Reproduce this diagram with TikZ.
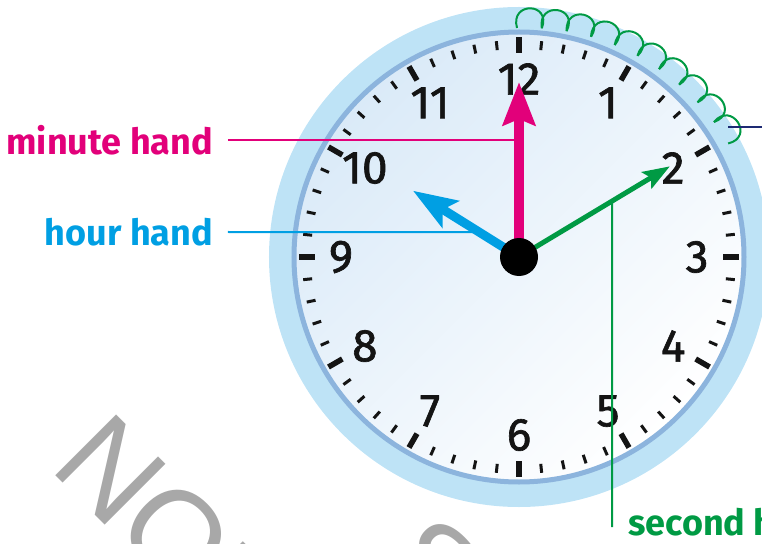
\documentclass[tikz,border=0pt]{standalone}
\usepackage{fontspec}
\setmainfont{Fira Sans}
\newfontfamily\markfont{Liberation Sans}
\newfontfamily\digitfont[FakeBold=1.4]{Fira Sans}
\usetikzlibrary{arrows.meta}

\definecolor{rimblue}{HTML}{BEE3F6}
\definecolor{ringblue}{HTML}{8CB4DD}
\definecolor{faceblue}{HTML}{DAEAF8}
\definecolor{minpink}{HTML}{E2007A}
\definecolor{hourblue}{HTML}{009FE3}
\definecolor{secgreen}{HTML}{009A44}
\definecolor{navy}{HTML}{1D2A73}
\definecolor{markgray}{HTML}{A8A8A8}
\definecolor{tickblack}{HTML}{141414}

\tikzset{
  handlabel/.style={font=\bfseries\fontsize{36}{40}\selectfont, inner sep=0pt},
  digit/.style={font=\digitfont\fontsize{46}{50}\selectfont, text=tickblack, inner sep=0pt},
  leader/.style={line width=2pt},
  markword/.style={font=\markfont\fontsize{125}{125}\selectfont, text=markgray, rotate=-45, inner sep=0pt},
}

\begin{document}
\begin{tikzpicture}[x=1pt,y=1pt]
\useasboundingbox (-519,-286) rectangle (243,257);
\node[markword, anchor=base west] (markA) at (-471,-211) {NOT};
\node[markword] (markB) at (-86,-312) {S};
\fill[rimblue] (0,0) circle (250);
\shade[top color=faceblue, bottom color=white, shading angle=45] (0,0) circle (225);
\draw[ringblue, line width=5] (0,0) circle (225);
\foreach \i in {1,...,59}
  \draw[tickblack, line width=3] ({90-6*\i}:208) -- ({90-6*\i}:217);
\foreach \a in {0,30,...,330}
  \draw[tickblack, line width=5.5] (\a:204) -- (\a:220);
\foreach \n in {1,...,12}
  \node[digit] (d\n) at ({90-30*\n}:178) {\n};
\foreach \k in {0,...,9}{
  \pgfmathsetmacro\aa{90.5-6.2*\k}
  \pgfmathsetmacro\ab{\aa-6.2}
  \pgfmathsetmacro\ra{229+0.9*\k}
  \pgfmathsetmacro\rb{\ra+0.9}
  \draw[secgreen, line width=2] (\aa:\ra) .. controls ({\aa+1.6}:{\ra+27}) and ({\ab-1.6}:{\rb+27}) .. (\ab:\rb);
}
\coordinate (ctr) at (0,0);
\coordinate (mintip) at (90:175);
\coordinate (hourtip) at (148:125);
\coordinate (sectip) at (31:176);
\coordinate (minpt) at (90:117);
\coordinate (hourpt) at (148:47);
\coordinate (secpt) at (31:108.5);
\coordinate (secfoot) at (93,-270);
\coordinate (rimpt) at (209,130);
\coordinate (rimend) at (243,130);
\node[handlabel, text=minpink, anchor=east, outer xsep=15pt] (minlab) at (-291,117) {minute hand};
\node[handlabel, text=hourblue, anchor=east, outer xsep=15pt] (hourlab) at (-291,25) {hour hand};
\node[handlabel, text=secgreen, anchor=base west] (seclab) at (109,-278) {second hand};
\draw[leader, minpink] (minlab.east) -- (minpt);
\draw[leader, hourblue] (hourlab.east) -- (hourpt);
\draw[leader, secgreen] (secpt) -- (secfoot);
\draw[leader, navy] (rimpt) -- (rimend);
\draw[hourblue, line width=9, -{Stealth[length=44pt,width=31pt,inset=9pt]}] (ctr) -- (hourtip);
\draw[minpink, line width=10, -{Stealth[length=43pt,width=32pt,inset=6pt]}] (ctr) -- (mintip);
\draw[secgreen, line width=5, -{Stealth[length=27pt,width=19pt,inset=5pt]}] (ctr) -- (sectip);
\node[circle, fill=black, minimum size=38pt, inner sep=0pt] (hub) at (ctr) {};
\end{tikzpicture}
\end{document}
